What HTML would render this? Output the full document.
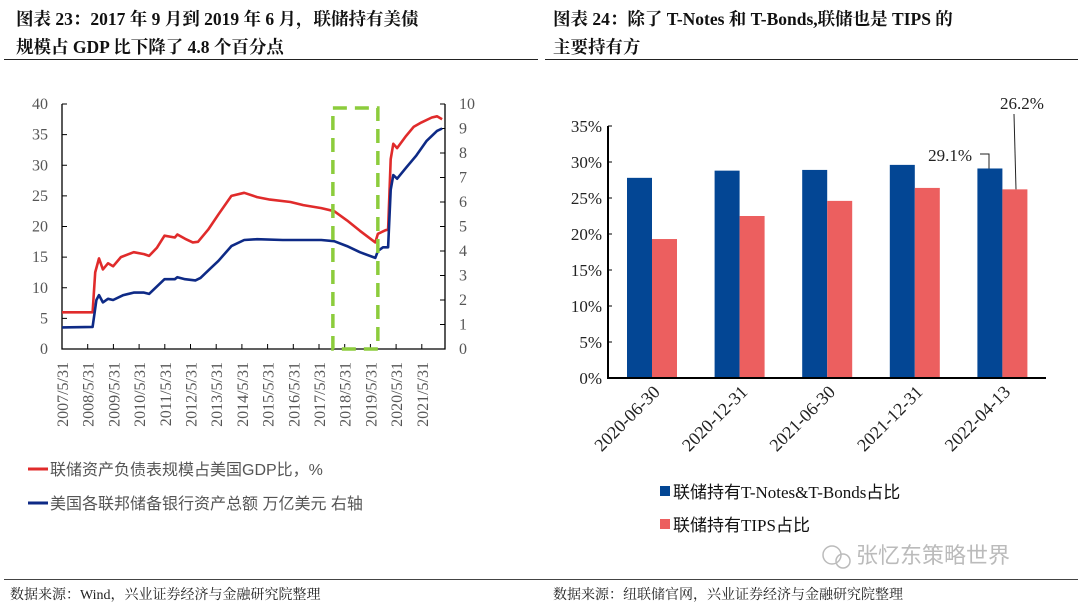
<!DOCTYPE html>
<html><head><meta charset="utf-8">
<style>
html,body{margin:0;padding:0;background:#fff;}
body{width:1080px;height:605px;overflow:hidden;position:relative;font-family:"Liberation Serif","Noto Serif CJK SC",serif;}
svg{position:absolute;left:0;top:0;}
</style></head>
<body>
<svg id="svg" width="1080" height="605" viewBox="0 0 1080 605">
<g font-family="'Liberation Serif','Noto Serif CJK SC',serif" font-weight="bold" font-size="17.5" fill="#111">
<text x="16" y="25">图表 23：2017 年 9 月到 2019 年 6 月，联储持有美债</text>
<text x="16" y="53">规模占 GDP 比下降了 4.8 个百分点</text>
<text x="553" y="25">图表 24：除了 T-Notes 和 T-Bonds,联储也是 TIPS 的</text>
<text x="553" y="53">主要持有方</text>
</g>
<line x1="4" y1="59.5" x2="538" y2="59.5" stroke="#222" stroke-width="1"/>
<line x1="545" y1="59.5" x2="1078" y2="59.5" stroke="#222" stroke-width="1"/>
<line x1="4" y1="579.5" x2="1078" y2="579.5" stroke="#444" stroke-width="1"/>
<g font-family="'Liberation Serif','Noto Serif CJK SC',serif" font-size="14" fill="#222">
<text x="10" y="599">数据来源：Wind，兴业证券经济与金融研究院整理</text>
<text x="553" y="599">数据来源：纽联储官网，兴业证券经济与金融研究院整理</text>
</g>
<g id="left"></g>
<g id="right"></g>
<g fill="#bbb">
<circle cx="832" cy="555" r="9" fill="none" stroke="#bbb" stroke-width="1.5"/>
<circle cx="843" cy="561" r="7" fill="none" stroke="#bbb" stroke-width="1.5"/>
<text x="856" y="563" font-family="'Liberation Sans','Noto Sans CJK SC',sans-serif" font-size="22">张忆东策略世界</text>
</g>
</svg>
<script>
// ---- Left chart data ----
const redYears=[2007.41,2008.6,2008.7,2008.85,2009.0,2009.2,2009.4,2009.7,2010.2,2010.6,2010.8,2011.1,2011.4,2011.8,2011.9,2012.2,2012.5,2012.7,2013.1,2013.5,2014.0,2014.5,2015.0,2015.5,2016.3,2016.8,2017.5,2018.0,2018.5,2019.0,2019.6,2019.7,2020.0,2020.1,2020.2,2020.3,2020.45,2020.8,2021.1,2021.4,2021.8,2022.0,2022.2];
const redVals=[6,6,12.5,14.8,13,14,13.5,15,15.8,15.5,15.2,16.5,18.5,18.2,18.7,18,17.4,17.5,19.5,22,25,25.5,24.8,24.4,24,23.5,23,22.5,21,19.3,17.4,18.8,19.4,19.5,31,33.5,32.8,34.8,36.3,37,37.8,38,37.5];
const blueYears=[2007.41,2008.6,2008.75,2008.85,2009.0,2009.2,2009.4,2009.8,2010.2,2010.6,2010.8,2011.4,2011.8,2011.9,2012.2,2012.6,2012.8,2013.2,2013.5,2014.0,2014.5,2015.0,2016.0,2017.0,2017.5,2018.0,2018.5,2019.0,2019.6,2019.7,2019.9,2020.1,2020.2,2020.3,2020.45,2020.8,2021.2,2021.6,2022.0,2022.2];
const blueVals=[0.88,0.9,2.0,2.2,1.9,2.05,2.0,2.2,2.3,2.3,2.25,2.85,2.85,2.93,2.85,2.8,2.9,3.3,3.6,4.2,4.45,4.48,4.45,4.45,4.45,4.4,4.2,3.95,3.72,4.0,4.15,4.15,6.5,7.1,6.95,7.4,7.9,8.5,8.9,9.0];
const leftTicks=[0,5,10,15,20,25,30,35,40];
const rightTicks=[0,1,2,3,4,5,6,7,8,9,10];
const xTickLabels=["2007/5/31","2008/5/31","2009/5/31","2010/5/31","2011/5/31","2012/5/31","2013/5/31","2014/5/31","2015/5/31","2016/5/31","2017/5/31","2018/5/31","2019/5/31","2020/5/31","2021/5/31"];
// ---- Right chart data ----
const barCats=["2020-06-30","2020-12-31","2021-06-30","2021-12-31","2022-04-13"];
const notesVals=[27.8,28.8,28.9,29.6,29.1];
const tipsVals=[19.3,22.5,24.6,26.4,26.2];
const pctTicks=[0,5,10,15,20,25,30,35];

const NS="http://www.w3.org/2000/svg";
function mk(tag,attrs,parent,txt){const e=document.createElementNS(NS,tag);for(const k in attrs)e.setAttribute(k,attrs[k]);if(txt!==undefined)e.textContent=txt;parent.appendChild(e);return e;}
const FONT="'Liberation Serif','Noto Serif CJK SC',serif";

// Left chart
const L=document.getElementById('left');
const x0=62,x1=445,yB=349,yT=104;
const xS=y=>x0+(y-2007.41)*25.7;
const yL=v=>yB-(v/40)*(yB-yT);
const yR=v=>yB-(v/10)*(yB-yT);
let ax=mk('path',{d:`M${x0},${yT} V${yB} H${x1} V${yT}`,fill:'none',stroke:'#000','stroke-width':1.3},L);


leftTicks.forEach(v=>{
  mk('line',{x1:x0,x2:x0+5,y1:yL(v),y2:yL(v),stroke:'#000'},L);
  const t=mk('text',{x:x0-14,y:yL(v)+5,'text-anchor':'end','font-family':FONT,'font-size':16,fill:'#555'},L,String(v));
  
  
});
rightTicks.forEach(v=>{
  mk('line',{x1:x1-5,x2:x1,y1:yR(v),y2:yR(v),stroke:'#000'},L);
  const t=mk('text',{x:x1+14,y:yR(v)+5,'font-family':FONT,'font-size':16,fill:'#555'},L,String(v));
  
  
});
xTickLabels.forEach((s,i)=>{
  const x=xS(2007.41+i);
  mk('line',{x1:x,x2:x,y1:yB,y2:yB-5,stroke:'#000'},L);
  const t=mk('text',{x:0,y:0,'text-anchor':'end','font-family':FONT,'font-size':16,fill:'#555',transform:`translate(${x+6},${yB+13}) rotate(-90)`},L,s);
  
  
});
const path=(xs,vs,sc)=>xs.map((y,i)=>(i?'L':'M')+xS(y).toFixed(1)+','+sc(vs[i]).toFixed(1)).join(' ');
let rl=mk('path',{d:path(redYears,redVals,yL),fill:'none',stroke:'#e02b2b','stroke-width':2.6,'stroke-linejoin':'round'},L);


let bl=mk('path',{d:path(blueYears,blueVals,yR),fill:'none',stroke:'#0e2a86','stroke-width':2.6,'stroke-linejoin':'round'},L);


let gb=mk('rect',{x:xS(2017.95),y:108,width:xS(2019.7)-xS(2017.95),height:yB-108,fill:'none',stroke:'#8ccc3c','stroke-width':3.5,'stroke-dasharray':'14,8'},L);


// legend
[['#e02b2b','联储资产负债表规模占美国GDP比，%',469],['#0e2a86','美国各联邦储备银行资产总额 万亿美元 右轴',503]].forEach((d,i)=>{
  const g=mk('g',{},L);
  
  
  mk('line',{x1:28,x2:48,y1:d[2],y2:d[2],stroke:d[0],'stroke-width':3},g);
  mk('text',{x:50,y:d[2]+6,'font-family':"'Liberation Sans','Noto Sans CJK SC',sans-serif",'font-size':16,fill:'#555'},g,d[1]);
});

// Right chart
const R=document.getElementById('right');
const bx0=608,bx1=1046,by0=378,byT=126;
const yP=v=>by0-(v/35)*(by0-byT);
const step=87.6,first=652,bw=25;
pctTicks.forEach(v=>{
  mk('line',{x1:bx0,x2:bx0+4,y1:yP(v),y2:yP(v),stroke:'#000'},R);
  const t=mk('text',{x:bx0-6,y:yP(v)+6,'text-anchor':'end','font-family':FONT,'font-size':17,fill:'#222'},R,v+'%');
  
  
});
barCats.forEach((c,i)=>{
  const cx=first+i*step;
  let b=mk('rect',{x:cx-bw,y:yP(notesVals[i]),width:bw,height:by0-yP(notesVals[i]),fill:'#034694'},R);
  
  
  let r=mk('rect',{x:cx,y:yP(tipsVals[i]),width:bw,height:by0-yP(tipsVals[i]),fill:'#ec5f5f'},R);
  
  
  const t=mk('text',{x:0,y:0,'text-anchor':'end','font-family':FONT,'font-size':18,fill:'#222',transform:`translate(${cx+9},${393}) rotate(-45)`},R,c);
  
  
});
let rax=mk('path',{d:`M${bx0},${byT} V${by0} H${bx1}`,fill:'none',stroke:'#000','stroke-width':2},R);


// annotations
const li=barCats.length-1;
const a1=mk('g',{},R);


mk('text',{x:972,y:161,'text-anchor':'end','font-family':FONT,'font-size':17,fill:'#222'},a1,notesVals[li].toFixed(1)+'%');
mk('path',{d:`M980,154 H989 V${yP(notesVals[li])}`,fill:'none',stroke:'#222'},a1);
const a2=mk('g',{},R);


mk('text',{x:1000,y:109,'font-family':FONT,'font-size':17,fill:'#222'},a2,tipsVals[li].toFixed(1)+'%');
mk('line',{x1:1014,x2:1016,y1:114,y2:yP(tipsVals[li]),stroke:'#222'},a2);
// legend
[['#034694','联储持有T-Notes&T-Bonds占比',492],['#ec5f5f','联储持有TIPS占比',525]].forEach((d,i)=>{
  const g=mk('g',{},R);
  
  
  mk('rect',{x:660,y:d[2]-6,width:10,height:10,fill:d[0]},g);
  mk('text',{x:673,y:d[2]+6,'font-family':"'Liberation Serif','Noto Sans CJK SC',serif",'font-size':17,fill:'#111'},g,d[1]);
});
</script>
</body></html>
